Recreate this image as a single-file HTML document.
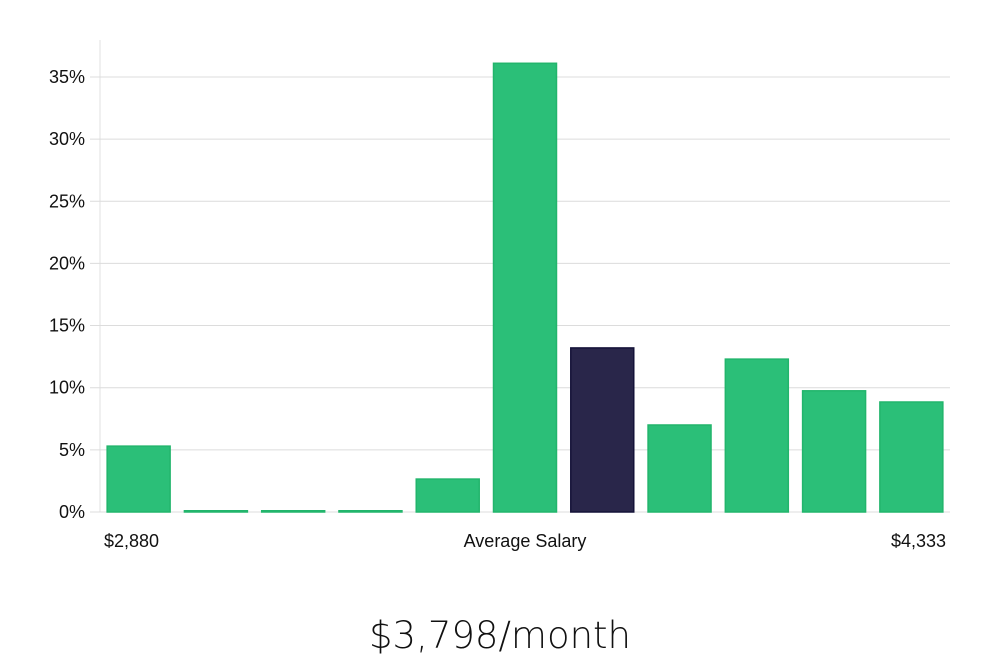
<!DOCTYPE html>
<html><head><meta charset="utf-8"><style>
body{margin:0;background:#fff;width:1000px;height:660px;overflow:hidden;font-family:"Liberation Sans","DejaVu Sans",sans-serif}
</style></head><body>
<svg width="1000" height="660">
<g id="grid"></g><g id="bars"></g><g id="labels"></g>
<text x="500" y="648" text-anchor="middle" font-size="37" fill="#111" font-family="'DejaVu Sans','Liberation Sans',sans-serif" font-weight="300">$3,798/month</text>
</svg>
<script>
const categories=["b1","b2","b3","b4","b5","b6","b7","b8","b9","b10","b11"];
const values=[5.3,0.1,0.1,0.1,2.65,36.1,13.2,7.0,12.3,9.75,8.85];
const highlightIndex=6;
const yTicks=[0,5,10,15,20,25,30,35];
const xLabels=["$2,880","Average Salary","$4,333"];
const NS="http://www.w3.org/2000/svg";
const x0=100,x1=950,yBase=512,pxPerPct=12.43;
const y=v=>yBase-v*pxPerPct;
const band=(x1-x0)/categories.length;
function mk(t,a,p){const e=document.createElementNS(NS,t);for(const k in a)e.setAttribute(k,a[k]);p.appendChild(e);return e;}
const g=document.getElementById('grid'),b=document.getElementById('bars'),l=document.getElementById('labels');
const ax=mk('line',{x1:x0,x2:x0,y1:40,y2:yBase,stroke:'#e0e0e0'},g);


yTicks.forEach(t=>{
 const ln=mk('line',{x1:90,x2:x1,y1:y(t),y2:y(t),stroke:'#dcdcdc'},g);
 
 
 const tx=mk('text',{x:85,y:y(t)+6,'text-anchor':'end','font-size':18,fill:'#111'},l);
 tx.textContent=t+'%';
 
 
});
values.forEach((v,i)=>{
 const w=band*0.815,bx=x0+i*band+(band-w)/2;
 const hi=i===highlightIndex;
 const r=mk('rect',{x:bx,y:y(v),width:w,height:Math.max(1,yBase-y(v)),fill:hi?'#29264a':'#2bbf78',stroke:hi?'#141238':'#22b56c','stroke-width':1.5},b);
 
 
});
[[104,'start'],[525,'middle'],[946,'end']].forEach((p,i)=>{
 const t=mk('text',{x:p[0],y:547,'text-anchor':p[1],'font-size':18,fill:'#111'},l);
 t.textContent=xLabels[i];
 
 
});
</script>
</body></html>
